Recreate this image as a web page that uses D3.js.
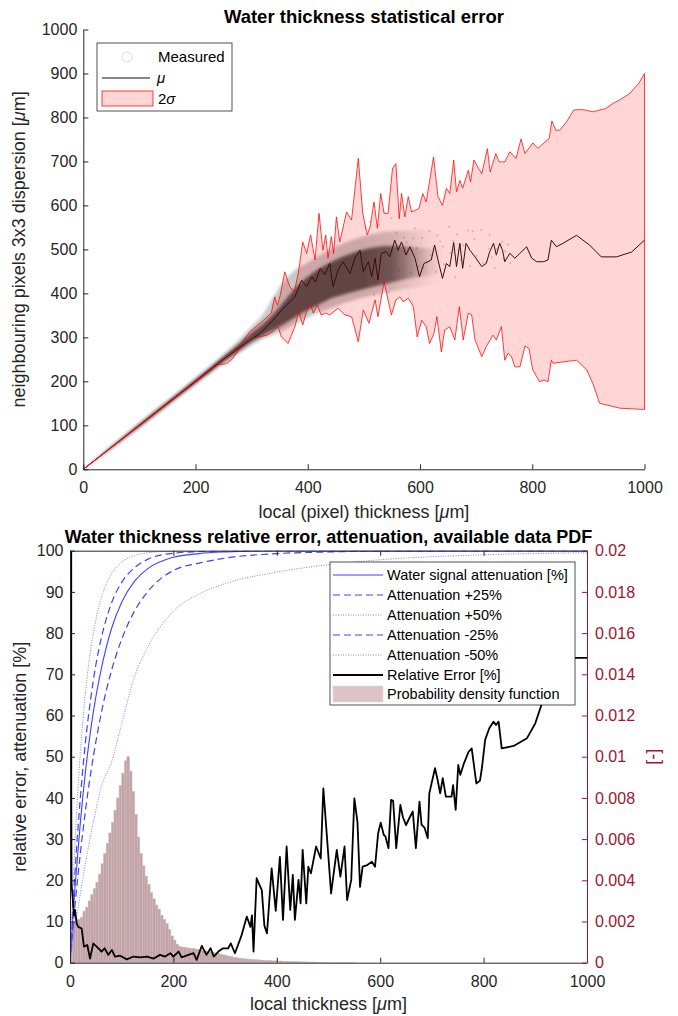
<!DOCTYPE html>
<html>
<head>
  <meta charset="utf-8">
  <script src="https://d3js.org/d3.v7.min.js"></script>
  <style type="text/css">
    body { margin: 0; background: #fff; }
    text { font-family: "Liberation Sans", Arial, sans-serif; }
    .tick text { font-family: "Liberation Sans", Arial, sans-serif; font-size: 16px; fill: #262626; }
    .title { font-size: 18px; font-weight: bold; fill: #000; }
    .label { font-size: 18px; fill: #262626; }
    .legend-text { font-size: 14.5px; fill: #000; }
  </style>
</head>
<body>
<script type="text/javascript">
// ---------- top chart: statistical error ----------
var topXTicks = [0, 200, 400, 600, 800, 1000];
var topYTicks = [0, 100, 200, 300, 400, 500, 600, 700, 800, 900, 1000];

// mean (mu) of the neighbour dispersion
var muPts = [[0,0],[100,100],[200,200],[250,250],[279,278],[300,296],[315,309],[338,339],[356,366],[377,392],[389,430],[398,415],[407,438],[414,426],[422,457],[430,442],[439,468],[445,415],[454,453],[463,472],[475,445],[484,480],[493,498],[499,449],[508,472],[514,438],[520,480],[525,430],[531,491],[540,495],[546,483],[555,521],[561,498],[567,517],[575,487],[582,506],[591,480],[599,438],[607,468],[614,472],[620,476],[626,510],[632,476],[640,434],[647,468],[653,461],[660,516],[665,461],[671,514],[676,457],[682,514],[689,498],[698,483],[710,461],[718,468],[724,494],[731,514],[736,487],[742,514],[747,498],[751,472],[760,491],[769,480],[778,491],[790,506],[799,480],[808,472],[820,472],[828,476],[834,521],[843,506],[855,514],[879,532],[902,510],[923,483],[950,483],[977,494],[1000,521]];

// upper / lower edge of the 2 sigma band
var upperPts = [[0,0],[100,101],[200,202],[240,244],[260,264],[270,274],[279,283],[297,313],[315,332],[335,355],[341,392],[346,373],[351,396],[359,449],[368,415],[376,404],[383,445],[391,517],[398,491],[405,533],[413,476],[420,582],[427,498],[432,533],[436,480],[442,529],[446,491],[451,574],[457,517],[469,585],[478,567],[490,707],[498,582],[506,533],[511,551],[518,608],[524,548],[530,627],[536,582],[543,582],[551,684],[557,695],[563,570],[567,627],[573,574],[579,620],[585,585],[598,593],[605,627],[611,608],[624,710],[632,620],[640,600],[647,639],[653,627],[660,703],[665,631],[671,657],[676,639],[686,680],[690,654],[696,703],[710,672],[720,729],[725,676],[735,718],[741,699],[751,699],[760,722],[771,707],[780,751],[787,718],[801,742],[810,730],[830,752],[835,792],[842,771],[849,771],[861,790],[874,817],[890,818],[908,813],[930,820],[944,832],[960,843],[974,855],[990,878],[1000,900]];
var lowerPts = [[0,0],[100,99],[200,198],[240,238],[255,240],[265,250],[279,275],[303,298],[327,305],[338,313],[347,324],[353,301],[365,286],[377,324],[384,358],[391,328],[397,355],[404,377],[410,355],[417,373],[424,351],[432,355],[439,351],[454,366],[466,351],[478,347],[490,290],[499,362],[509,332],[520,385],[525,347],[536,426],[543,385],[549,351],[557,385],[564,392],[570,381],[579,389],[588,370],[595,301],[603,339],[611,324],[617,286],[625,309],[630,347],[638,267],[644,317],[653,324],[662,294],[670,370],[677,294],[686,355],[692,351],[698,294],[710,256],[718,279],[730,305],[736,294],[745,324],[751,248],[757,264],[763,256],[769,233],[778,233],[787,280],[794,275],[801,226],[813,199],[821,203],[828,199],[834,248],[837,241],[860,245],[879,248],[897,226],[908,195],[920,150],[956,139],[1000,136]];

// measured point cloud, read as dense core and thin halo bounds
var cloudX      = [0, 100, 200, 250, 280, 300, 320, 340, 360, 380, 400, 420, 440, 460, 480, 500, 520, 540, 560, 580, 600, 620, 640];
var cloudCoreLo = [0,  97, 196, 245, 272, 290, 305, 318, 332, 348, 362, 375, 388, 396, 403, 410, 416, 422, 428, 434, 438, 442, 446];
var cloudCoreHi = [0, 103, 204, 256, 288, 310, 330, 355, 385, 415, 438, 456, 470, 482, 492, 500, 505, 508, 508, 506, 504, 502, 500];
var cloudHaloLo = [0,  94, 192, 240, 266, 282, 296, 306, 318, 332, 345, 356, 366, 376, 384, 391, 397, 402, 407, 411, 415, 419, 422];
var cloudHaloHi = [0, 106, 208, 262, 298, 325, 352, 395, 432, 456, 470, 486, 500, 512, 522, 530, 536, 540, 542, 543, 543, 542, 540];
// loose single points in the sparse part of the cloud
var sparsePts = [[503,548],[511,563],[518,397],[527,556],[544,403],[549,571],[558,538],[563,451],[571,527],[576,516],[583,446],[591,548],[594,503],[604,526],[606,458],[617,541],[619,487],[628,449],[631,532],[641,507],[643,466],[652,551],[654,492],[663,437],[666,534],[673,476],[677,509],[686,543],[689,462],[697,523],[701,485],[709,544],[713,468],[722,502],[724,533],[733,457],[737,501],[746,517],[749,478],[757,511],[761,468],[588,525],[612,470],[636,518],[668,499],[694,541],[728,482],[752,496],[598,462],[659,520]];

// ---------- bottom chart: relative error, attenuation, PDF ----------
var botXTicks = [0, 200, 400, 600, 800, 1000];
var botYTicks = [0, 10, 20, 30, 40, 50, 60, 70, 80, 90, 100];
var pdfTicks = [0, 0.002, 0.004, 0.006, 0.008, 0.01, 0.012, 0.014, 0.016, 0.018, 0.02];

var attX    = [0, 5, 10, 20, 30, 40, 50, 60, 80, 100, 125, 150, 200, 250, 300, 400, 500, 600, 800, 1000];
var attBase = [0, 9.9, 18.8, 34, 46.5, 56.5, 64.5, 71, 81, 87.5, 92.6, 95.6, 98.4, 99.3, 99.7, 100, 100, 100, 100, 100];
var attP25  = [0, 12, 22.6, 40, 53.7, 64, 72.3, 78.5, 87.2, 92.3, 95.9, 97.9, 99.4, 99.8, 100, 100, 100, 100, 100, 100];
var attP50  = [0, 16.4, 30, 51, 65.7, 76, 83.2, 88.3, 94.3, 97.2, 98.8, 99.5, 99.9, 100, 100, 100, 100, 100, 100, 100];
var attM25  = [0, 7.4, 14.3, 26.5, 37, 46, 53.6, 60.3, 70.8, 78.5, 85.4, 90, 95.2, 97, 98.2, 99.3, 99.7, 99.9, 100, 100];
var attM50  = [0, 4.5, 8.8, 16.8, 24.2, 31, 37, 42.5, 48.5, 58, 69.5, 76.5, 85.3, 89.5, 92, 94.8, 96.6, 97.8, 99, 99.5];

var relErrPts = [[2,300],[2.5,40],[3,19],[5,16],[7.7,11.5],[9.7,12.8],[13,9.5],[16,8.7],[22.6,8.3],[27,3.9],[33.5,4.3],[38.7,1],[45,4.7],[55,3.5],[61,2.7],[67,3.5],[74,1.9],[81,3.1],[87,1.5],[97,1.7],[110,0.8],[123,1.5],[136,1.3],[149,1.5],[162,1],[174,1.9],[184,1.5],[194,2.3],[200,1.5],[210,2.7],[216,1.3],[229,1.9],[239,2.3],[245,0.7],[255,4.1],[264,1.9],[272,3.5],[278,1.5],[287,2.7],[296,3.5],[306,3.5],[311,4.7],[319,2.3],[332,6.7],[342,11.2],[349,8.7],[352,11.5],[355,2.7],[361,20.5],[366,19],[371,17.6],[376,9],[381,7.1],[390,22.9],[398,12.6],[406,25.7],[412,10.4],[419,28.2],[426,12.8],[431,21.3],[435,10.4],[442,20.1],[446,14.4],[450,27.4],[457,14.4],[461,23.3],[466,21.7],[476,28.2],[485,25.3],[490,42.3],[497,30.6],[505,16.8],[516,27.4],[523,20.9],[531,28.2],[536,15.2],[544,20.1],[550,39.9],[556,34.2],[561,18.4],[566,23.3],[575,23.7],[584,24.5],[590,23.3],[596,31.4],[601,34],[607,31],[610,30.7],[616,27.8],[621,39.5],[625,39.3],[631,27.8],[639,38.3],[644,35.3],[650,33.4],[656,35],[663,36.7],[669,27.8],[676,39.1],[680,33.5],[686,32.7],[692,30.2],[695,41.1],[706,47.2],[711,44.4],[716,41.1],[721,44.8],[727,40.3],[738,40.3],[741,43.1],[746,37.1],[751,48],[755,45.6],[762,48.4],[771,51.2],[777,52],[786,43.5],[793,44.2],[797,47.5],[803,54.1],[811,56.9],[819,58.5],[824,57.7],[829,58.5],[835,52],[858,52.6],[884,54.5],[900,58.1],[913,63],[930,69],[950,73],[965,74],[1000,74]];

// probability density, 5 um bins starting at 0
var pdfBinWidth = 5;
var pdfVal = [0.0015,0.0020,0.0021,0.0021,0.0022,0.0025,0.0027,0.0030,0.0033,0.0036,
  0.0039,0.0043,0.0048,0.0053,0.0058,0.0063,0.0068,0.0074,0.0080,0.0086,
  0.0092,0.0098,0.0100,0.0093,0.0083,0.0072,0.0061,0.0053,0.0047,0.0042,
  0.0038,0.0034,0.0031,0.0028,0.0026,0.0023,0.0021,0.0019,0.0016,0.0013,
  0.0011,0.0009,0.0008,0.00076,0.00074,0.00072,0.0007,0.00069,0.00067,0.00065,
  0.00062,0.0006,0.00058,0.00055,0.00052,0.0005,0.00047,0.00044,0.00041,0.00038,
  0.00035,0.00032,0.00029,0.00026,0.00024,0.00022,0.0002,0.00019,0.00018,0.00017,
  0.00016,0.00015,0.00014,0.00013,0.00012,0.00011,0.0001,0.0001,0.00009,0.00009,
  0.00008,0.00008,0.00007,0.00007,0.00006,0.00006,0.00005,0.00005,0.00005,0.00004,
  0.00004,0.00004,0.00003,0.00003,0.00003,0.00003,0.00002,0.00002,0.00002,0.00002,
  0.00001,0.00001,0.00001,0.00001,0.00001,0.00001,0.00001,0.00001,0.00001,0.00001];

var legendTop = ['Measured', 'mu', '2sigma'];
var legendBottom = ['Water signal attenuation [%]', 'Attenuation +25%', 'Attenuation +50%',
  'Attenuation -25%', 'Attenuation -50%', 'Relative Error [%]', 'Probability density function'];

var axisColor = '#262626',
    pdfAxisColor = '#a2142f',
    blue = '#4040ff';

var svg = d3.select('body').append('svg')
    .attr('width', 678)
    .attr('height', 1016);

var defs = svg.append('defs');
defs.append('filter').attr('id', 'soft')
    .attr('x', '-5%').attr('y', '-5%').attr('width', '110%').attr('height', '110%')
  .append('feGaussianBlur').attr('stdDeviation', 1.8);

// ================= TOP CHART =================
var xT = d3.scaleLinear().domain([0, 1000]).range([83.3, 644.5]),
    yT = d3.scaleLinear().domain([0, 1000]).range([469.3, 29.5]);

var gTop = svg.append('g');

// cloud fades out to the right
var grad = defs.append('linearGradient').attr('id', 'cloudFade')
    .attr('gradientUnits', 'userSpaceOnUse')
    .attr('x1', xT(0)).attr('x2', xT(1000)).attr('y1', 0).attr('y2', 0);
[[0, 1], [0.5, 1], [0.55, 0.85], [0.59, 0.4], [0.62, 0.12], [0.64, 0]].forEach(function(s) {
  grad.append('stop').attr('offset', s[0]).attr('stop-color', '#2f3d3d').attr('stop-opacity', s[1]);
});

var cloudIdx = d3.range(cloudX.length);
var cloudArea = function(lo, hi) {
  return d3.area()
    .x(function(i) { return xT(cloudX[i]); })
    .y0(function(i) { return yT(lo[i]); })
    .y1(function(i) { return yT(hi[i]); })
    .curve(d3.curveMonotoneX);
};
gTop.append('path')
    .attr('d', cloudArea(cloudHaloLo, cloudHaloHi)(cloudIdx))
    .attr('fill', 'url(#cloudFade)').attr('opacity', 0.28)
    .attr('filter', 'url(#soft)');
gTop.append('path')
    .attr('d', cloudArea(cloudCoreLo, cloudCoreHi)(cloudIdx))
    .attr('fill', 'url(#cloudFade)').attr('opacity', 0.85)
    .attr('filter', 'url(#soft)');
gTop.selectAll('.dot').data(sparsePts).enter().append('circle')
    .attr('class', 'dot')
    .attr('cx', function(d) { return xT(d[0]); })
    .attr('cy', function(d) { return yT(d[1]); })
    .attr('r', 1.1)
    .attr('fill', '#2f3d3d').attr('opacity', 0.22);

// mean line
var lineT = d3.line().x(function(d) { return xT(d[0]); }).y(function(d) { return yT(d[1]); });
gTop.append('path')
    .attr('d', lineT(muPts))
    .attr('fill', 'none').attr('stroke', '#111').attr('stroke-width', 1);

// 2 sigma band, upper edge forward then lower edge back
var bandPts = upperPts.concat(lowerPts.slice().reverse());
gTop.append('path')
    .attr('d', lineT(bandPts) + 'Z')
    .attr('fill', '#ff0000').attr('fill-opacity', 0.16)
    .attr('stroke', '#ff0000').attr('stroke-opacity', 0.75).attr('stroke-width', 1);

// axes, ticks inside
var gxT = gTop.append('g').attr('transform', 'translate(0,' + yT(0) + ')')
    .call(d3.axisBottom(xT).tickValues(topXTicks).tickSize(-5).tickSizeOuter(0).tickPadding(12).tickFormat(d3.format('d')));
var gyT = gTop.append('g').attr('transform', 'translate(' + xT(0) + ',0)')
    .call(d3.axisLeft(yT).tickValues(topYTicks).tickSize(-5).tickSizeOuter(0).tickPadding(6).tickFormat(d3.format('d')));
[gxT, gyT].forEach(function(g) {
  g.attr('font-size', null).attr('font-family', null);
  g.selectAll('path, line').attr('stroke', axisColor);
});

gTop.append('text').attr('class', 'title')
    .attr('x', (xT(0) + xT(1000)) / 2).attr('y', 23).attr('text-anchor', 'middle')
    .style('font-size', '18.5px')
    .text('Water thickness statistical error');
var xlabT = gTop.append('text').attr('class', 'label')
    .attr('x', (xT(0) + xT(1000)) / 2).attr('y', 518).attr('text-anchor', 'middle');
xlabT.append('tspan').text('local (pixel) thickness [');
xlabT.append('tspan').attr('font-style', 'italic').text('\u03bc');
xlabT.append('tspan').text('m]');
var ylabT = gTop.append('text').attr('class', 'label')
    .attr('transform', 'translate(25,' + (yT(0) + yT(1000)) / 2 + ') rotate(-90)')
    .attr('text-anchor', 'middle');
ylabT.append('tspan').text('neighbouring pixels 3x3 dispersion [');
ylabT.append('tspan').attr('font-style', 'italic').text('\u03bc');
ylabT.append('tspan').text('m]');

// legend
var lt = gTop.append('g');
lt.append('rect').attr('x', 97).attr('y', 43).attr('width', 135).attr('height', 68)
    .attr('fill', '#fff').attr('stroke', axisColor).attr('stroke-width', 0.8);
lt.append('circle').attr('cx', 127).attr('cy', 57).attr('r', 5)
    .attr('fill', 'none').attr('stroke', '#ddd').attr('stroke-width', 1);
lt.append('text').attr('class', 'legend-text').attr('x', 158).attr('y', 62).style('font-size', '15px').text(legendTop[0]);
lt.append('line').attr('x1', 102).attr('x2', 150).attr('y1', 78).attr('y2', 78)
    .attr('stroke', '#111').attr('stroke-width', 1);
lt.append('text').attr('class', 'legend-text').attr('x', 157).attr('y', 83).style('font-size', '15px')
    .attr('font-style', 'italic').text('\u03bc');
lt.append('rect').attr('x', 102).attr('y', 91).attr('width', 51).attr('height', 15)
    .attr('fill', '#ff0000').attr('fill-opacity', 0.16)
    .attr('stroke', '#ff0000').attr('stroke-opacity', 0.75);
var sig = lt.append('text').attr('class', 'legend-text').attr('x', 158).attr('y', 104).style('font-size', '15px');
sig.append('tspan').text('2');
sig.append('tspan').attr('font-style', 'italic').text('\u03c3');

// ================= BOTTOM CHART =================
var xB = d3.scaleLinear().domain([0, 1000]).range([70, 587]),
    yB = d3.scaleLinear().domain([0, 100]).range([962.7, 550.7]),
    yR = d3.scaleLinear().domain([0, 0.02]).range([962.7, 550.7]);

defs.append('clipPath').attr('id', 'clipB')
  .append('rect').attr('x', xB(0)).attr('y', yB(100))
    .attr('width', xB(1000) - xB(0)).attr('height', yB(0) - yB(100));

var gBot = svg.append('g');
var plotB = gBot.append('g').attr('clip-path', 'url(#clipB)');

// histogram (right axis)
plotB.selectAll('.bar').data(pdfVal).enter().append('rect')
    .attr('class', 'bar')
    .attr('x', function(d, i) { return xB(i * pdfBinWidth); })
    .attr('width', xB(pdfBinWidth) - xB(0))
    .attr('y', function(d) { return yR(d); })
    .attr('height', function(d) { return yR(0) - yR(d); })
    .attr('fill', '#c2a3a8')
    .attr('stroke', '#cfb6ba').attr('stroke-width', 0.5);

// attenuation curves (left axis)
var attLine = function(vals) {
  return d3.line()
    .x(function(d, i) { return xB(attX[i]); })
    .y(function(d) { return yB(d); })
    .curve(d3.curveMonotoneX)(vals);
};
var attStyles = [
  {vals: attBase, dash: null, w: 1.1, c: blue},
  {vals: attP25, dash: '7,4', w: 1.2, c: blue},
  {vals: attP50, dash: '1,1.5', w: 0.9, c: '#7070ff'},
  {vals: attM25, dash: '7,4', w: 1.2, c: blue},
  {vals: attM50, dash: '1,1.5', w: 0.9, c: '#7070ff'}
];
attStyles.forEach(function(s) {
  plotB.append('path').attr('d', attLine(s.vals))
      .attr('fill', 'none').attr('stroke', s.c).attr('stroke-width', s.w)
      .attr('stroke-dasharray', s.dash);
});

// relative error
plotB.append('path')
    .attr('d', d3.line().x(function(d) { return xB(d[0]); }).y(function(d) { return yB(d[1]); })(relErrPts))
    .attr('fill', 'none').attr('stroke', '#000').attr('stroke-width', 1.8)
    .attr('stroke-linejoin', 'round');

// axes
var gxB = gBot.append('g').attr('transform', 'translate(0,' + yB(0) + ')')
    .call(d3.axisBottom(xB).tickValues(botXTicks).tickSize(-5).tickSizeOuter(0).tickPadding(12.6).tickFormat(d3.format('d')));
var gxB2 = gBot.append('g').attr('transform', 'translate(0,' + yB(100) + ')')
    .call(d3.axisTop(xB).tickValues(botXTicks).tickSize(-5).tickSizeOuter(0).tickFormat(''));
var gyB = gBot.append('g').attr('transform', 'translate(' + xB(0) + ',0)')
    .call(d3.axisLeft(yB).tickValues(botYTicks).tickSize(-5).tickSizeOuter(0).tickPadding(6.5).tickFormat(d3.format('d')));
var gyR = gBot.append('g').attr('transform', 'translate(' + xB(1000) + ',0)')
    .call(d3.axisRight(yR).tickValues(pdfTicks).tickSize(-5).tickSizeOuter(0).tickPadding(8).tickFormat(function(d) { return d === 0 ? '0' : String(+d.toFixed(3)); }));
[gxB, gxB2, gyB].forEach(function(g) {
  g.attr('font-size', null).attr('font-family', null);
  g.selectAll('path, line').attr('stroke', axisColor);
});
gyR.attr('font-size', null).attr('font-family', null);
gyR.selectAll('path, line').attr('stroke', pdfAxisColor);
gyR.selectAll('text').style('fill', pdfAxisColor);

gBot.append('text').attr('class', 'title')
    .attr('x', (xB(0) + xB(1000)) / 2).attr('y', 543).attr('text-anchor', 'middle')
    .text('Water thickness relative error, attenuation, available data PDF');
var xlabB = gBot.append('text').attr('class', 'label')
    .attr('x', (xB(0) + xB(1000)) / 2).attr('y', 1010).attr('text-anchor', 'middle');
xlabB.append('tspan').text('local thickness [');
xlabB.append('tspan').attr('font-style', 'italic').text('\u03bc');
xlabB.append('tspan').text('m]');
gBot.append('text').attr('class', 'label')
    .attr('transform', 'translate(26,' + (yB(0) + yB(100)) / 2 + ') rotate(-90)')
    .attr('text-anchor', 'middle')
    .text('relative error, attenuation [%]');
gBot.append('text').attr('class', 'label')
    .attr('transform', 'translate(659,' + (yB(0) + yB(100)) / 2 + ') rotate(-90)')
    .attr('text-anchor', 'middle').style('fill', pdfAxisColor)
    .text('[-]');

// legend
var lb = gBot.append('g');
lb.append('rect').attr('x', 330).attr('y', 562).attr('width', 245).attr('height', 143)
    .attr('fill', '#fff').attr('stroke', axisColor).attr('stroke-width', 0.8);
var rowY = [575, 595, 615, 635, 655, 675, 694];
attStyles.forEach(function(s, i) {
  lb.append('line').attr('x1', 333).attr('x2', 383).attr('y1', rowY[i]).attr('y2', rowY[i])
      .attr('stroke', s.c).attr('stroke-width', s.w).attr('stroke-dasharray', s.dash);
});
lb.append('line').attr('x1', 333).attr('x2', 383).attr('y1', rowY[5]).attr('y2', rowY[5])
    .attr('stroke', '#000').attr('stroke-width', 1.8);
lb.append('rect').attr('x', 333).attr('y', 686).attr('width', 50).attr('height', 16)
    .attr('fill', '#dcc3c7').attr('stroke', '#e6d3d6').attr('stroke-width', 0.6);
legendBottom.forEach(function(t, i) {
  lb.append('text').attr('class', 'legend-text').attr('x', 387).attr('y', rowY[i] + 5).text(t);
});
</script>
</body>
</html>
